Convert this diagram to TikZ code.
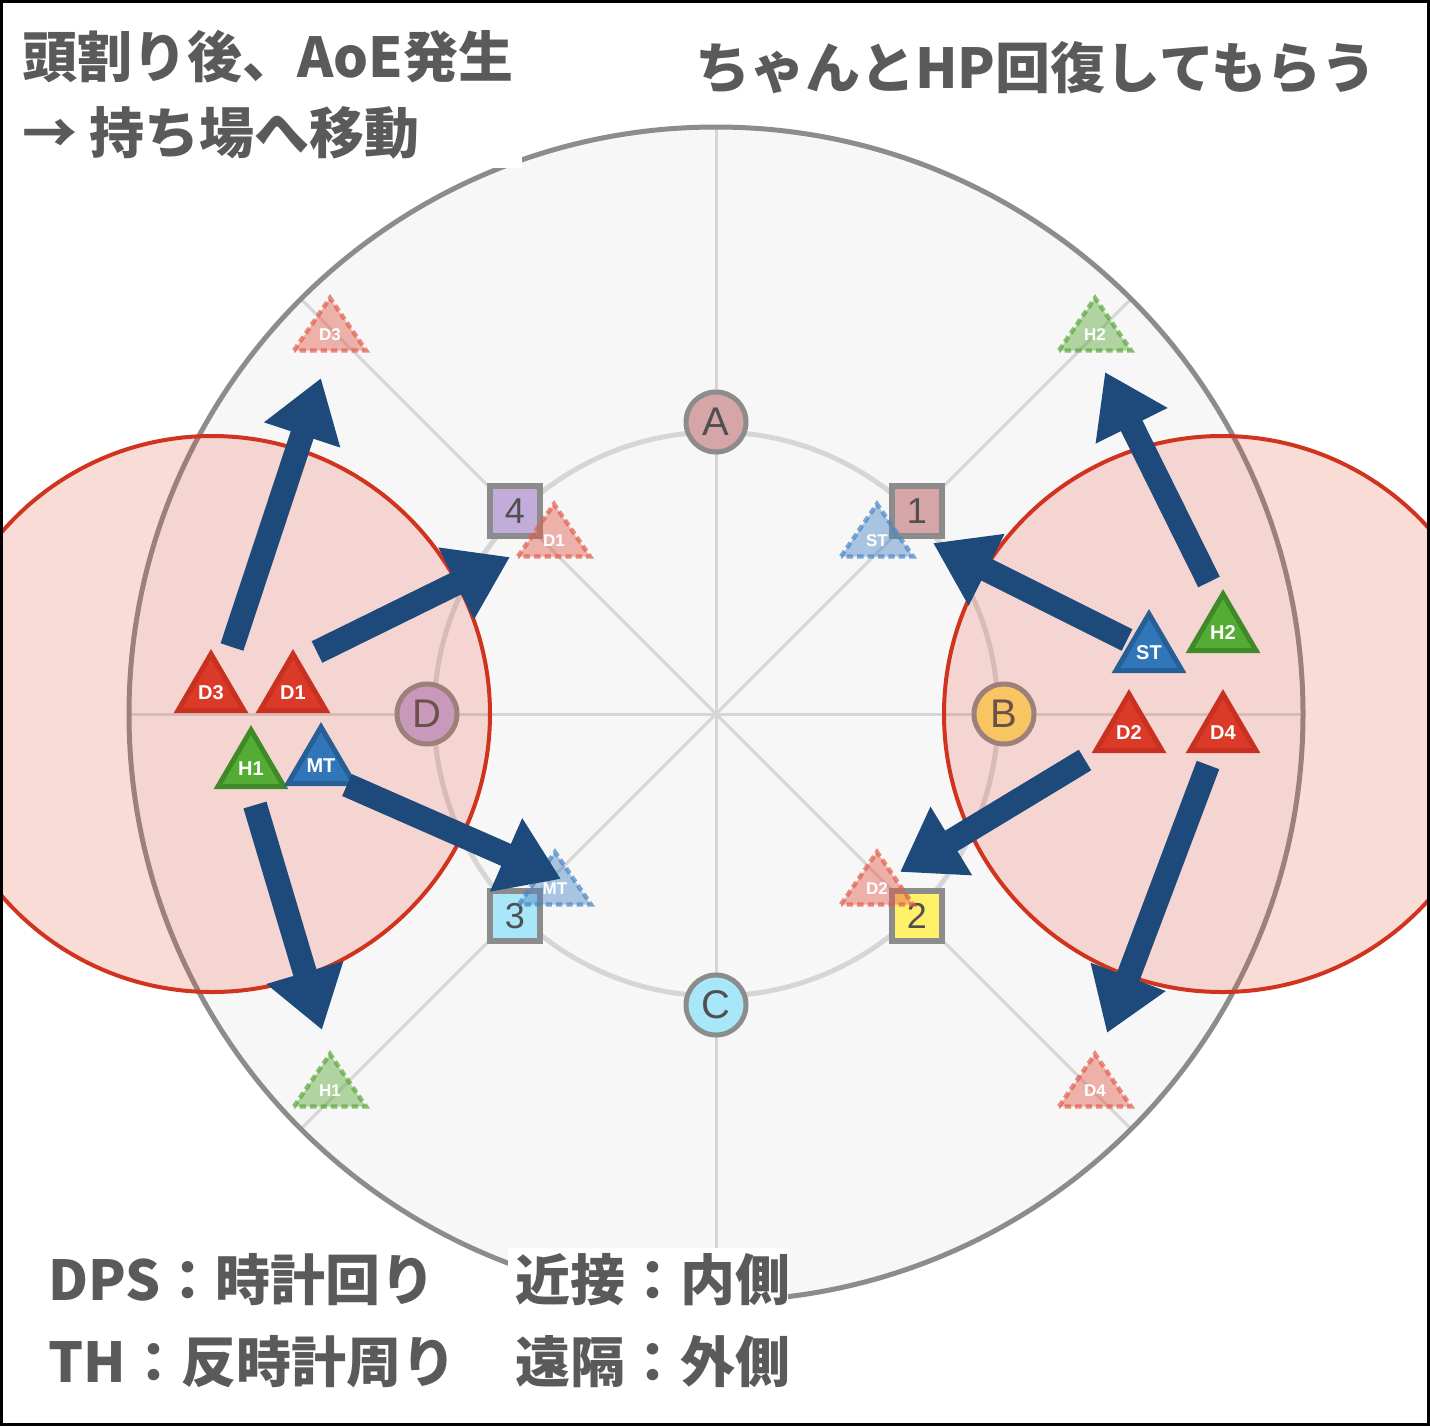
\documentclass[tikz,border=0pt]{standalone}
\usepackage{fontspec}
\usetikzlibrary{arrows.meta}
\newfontfamily\jpfont{Noto Sans CJK JP}
\newfontfamily\lsans{Liberation Sans}
\definecolor{txtgray}{HTML}{5A5A5A}
\definecolor{markgray}{HTML}{505050}
\definecolor{ringgray}{HTML}{8C8C8C}
\definecolor{spokegray}{HTML}{D6D6D6}
\definecolor{floorc}{HTML}{F7F7F7}
\definecolor{colA}{HTML}{D6A5A8}
\definecolor{colB}{HTML}{FCE36E}
\definecolor{colC}{HTML}{A8E6FA}
\definecolor{colD}{HTML}{C1ACDA}
\definecolor{colTwo}{HTML}{FFF06A}
\definecolor{aoe}{HTML}{E8503A}
\definecolor{aoeline}{HTML}{D0341F}
\definecolor{redF}{HTML}{DC3A28}
\definecolor{redS}{HTML}{C8311F}
\definecolor{grnF}{HTML}{55AC35}
\definecolor{grnS}{HTML}{3F8A28}
\definecolor{bluF}{HTML}{3176B8}
\definecolor{bluS}{HTML}{265E96}
\definecolor{ghR}{HTML}{E25D4C}
\definecolor{ghB}{HTML}{4A86C5}
\definecolor{ghG}{HTML}{5AA83A}
\definecolor{arrowblue}{HTML}{1D4A7A}
\newcommand\soltri[6]{%
  \filldraw[fill=#4, draw=#5, line width=2.5pt, line join=miter] (#2-33,#3-2.5) -- (#2,#3-59) -- (#2+33,#3-2.5) -- cycle;
  \node[tlab] (#1) at (#2,#3-20) {#6};}
\newcommand\ghtri[5]{%
  \path[fill=#4, fill opacity=0.45] (#2-36,#3-1.5) -- (#2,#3-54) -- (#2+36,#3-1.5) -- cycle;
  \draw[draw=#4, draw opacity=0.7, line width=2.2pt, dash pattern=on 3.2pt off 2pt] (#2-36,#3-1.5) -- (#2,#3-54) -- (#2+36,#3-1.5) -- cycle;
  \node[glab] (#1) at (#2,#3-17) {#5};}
\begin{document}
\begin{tikzpicture}[x=0.5pt,y=-0.5pt,
  bigc/.style={fill=floorc},
  ringline/.style={draw=ringgray, line width=2.5pt},
  spoke/.style={draw=spokegray, line width=1.5pt},
  innerc/.style={draw=spokegray, line width=2.5pt},
  wm/.style={circle, draw=ringgray, line width=2.5pt, minimum size=30pt, inner sep=0pt, text=markgray, font=\lsans\fontsize{20pt}{20pt}\selectfont},
  sqm/.style={rectangle, draw=ringgray, line width=3pt, minimum size=25pt, inner sep=0pt, text=markgray, font=\lsans\fontsize{18pt}{18pt}\selectfont},
  aoestyle/.style={fill=aoe, fill opacity=0.2, draw=aoeline, draw opacity=1, line width=2pt},
  tlab/.style={text=white, font=\lsans\bfseries\fontsize{10pt}{10pt}\selectfont, inner sep=0pt},
  glab/.style={text=white, font=\lsans\bfseries\fontsize{8.5pt}{8.5pt}\selectfont, inner sep=0pt},
  mv/.style={draw=arrowblue, line width=12pt, -{Triangle[width=38pt,length=30pt]}},
  jp/.style={text=txtgray, font=\jpfont\bfseries\fontsize{27.5pt}{33pt}\selectfont, anchor=west, inner sep=0pt}]
\useasboundingbox (0,0) rectangle (1430,1426);
\fill[white] (0,0) rectangle (1430,1426);
\coordinate (O) at (716,714);
% floor
\fill[bigc] (O) circle[radius=293.5pt];
\foreach \a in {0,45,...,315} \draw[spoke] (O) -- ++(\a:293.5pt);
\draw[ringline] (O) circle[radius=293.5pt];
\draw[innerc] (O) circle[radius=141pt];
% waymarks
\node[wm, fill=colA] (wA) at (716,422) {A};
\node[wm, fill=colB] (wB) at (1004,714) {B};
\node[wm, fill=colC] (wC) at (716,1005) {C};
\node[wm, fill=colD] (wD) at (427,714) {D};
\node[sqm, fill=colA] (w1) at (917,511) {1};
\node[sqm, fill=colTwo] (w2) at (917,916) {2};
\node[sqm, fill=colC] (w3) at (515,916) {3};
\node[sqm, fill=colD] (w4) at (515,511) {4};
% ghost positions
\ghtri{gD3}{330}{352}{ghR}{D3}
\ghtri{gH2}{1095}{352}{ghG}{H2}
\ghtri{gD1}{554}{558}{ghR}{D1}
\ghtri{gST}{877}{558}{ghB}{ST}
\ghtri{gMT}{555}{906}{ghB}{MT}
\ghtri{gD2}{877}{906}{ghR}{D2}
\ghtri{gH1}{330}{1108}{ghG}{H1}
\ghtri{gD4}{1095}{1108}{ghR}{D4}
% AoE
\draw[aoestyle] (212,714) circle[radius=139pt];
\draw[aoestyle] (1222,714) circle[radius=139pt];
% players
\soltri{pD3}{211}{713}{redF}{redS}{D3}
\soltri{pD1}{293}{713}{redF}{redS}{D1}
\soltri{pH1}{251}{789}{grnF}{grnS}{H1}
\soltri{pMT}{321}{786}{bluF}{bluS}{MT}
\soltri{pST}{1149}{673}{bluF}{bluS}{ST}
\soltri{pH2}{1223}{653}{grnF}{grnS}{H2}
\soltri{pD2}{1129}{753}{redF}{redS}{D2}
\soltri{pD4}{1223}{753}{redF}{redS}{D4}
% movement arrows
\coordinate (m1s) at (232,647);  \coordinate (m1e) at (321,378);
\coordinate (m2s) at (317,652);  \coordinate (m2e) at (510,557);
\coordinate (m3s) at (347,785);  \coordinate (m3e) at (561,879);
\coordinate (m4s) at (255,805);  \coordinate (m4e) at (322,1030);
\coordinate (m5s) at (1127,640); \coordinate (m5e) at (933,543);
\coordinate (m6s) at (1209,582); \coordinate (m6e) at (1105,372);
\coordinate (m7s) at (1085,760); \coordinate (m7e) at (900,872);
\coordinate (m8s) at (1208,765); \coordinate (m8e) at (1107,1033);
\foreach \i in {1,...,8} \draw[mv] (m\i s) -- (m\i e);
% text boxes
\fill[white] (0,0) rectangle (522,168);
\fill[white] (508,1248) rectangle (788,1310);
\node[jp] (t1) at (22,57) {頭割り後、AoE発生};
\node[jp] (t2) at (22,133) {→ 持ち場へ移動};
\node[jp] (t3) at (695,68) {ちゃんとHP回復してもらう};
\node[jp] (t4) at (48,1280) {DPS：時計回り};
\node[jp] (t5) at (48,1362) {TH：反時計周り};
\node[jp] (t6) at (515,1280) {近接：内側};
\node[jp] (t7) at (515,1362) {遠隔：外側};
% frame
\draw[black, line width=1.5pt] (1.5,1.5) rectangle (1428.5,1424.5);
\end{tikzpicture}
\end{document}
